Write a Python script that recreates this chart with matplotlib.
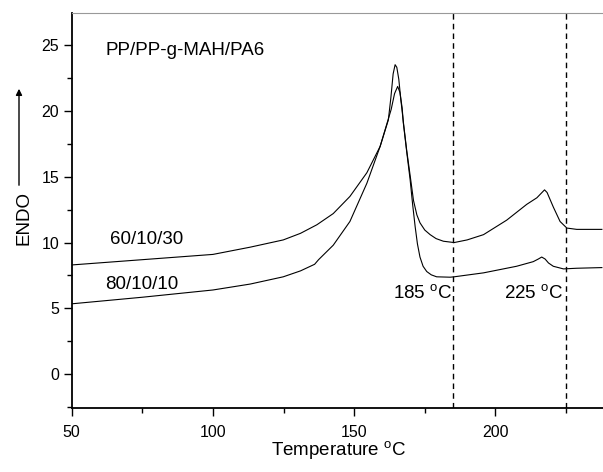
import matplotlib
matplotlib.use("Agg")
import matplotlib.pyplot as plt
from matplotlib.ticker import MultipleLocator

plt.rcParams['font.family'] = ['Liberation Sans', 'DejaVu Sans']
plt.rcParams['mathtext.fontset'] = 'custom'
plt.rcParams['mathtext.rm'] = 'Liberation Sans'

# 60/10/30 curve (upper)
t_upper = [50, 75, 100, 113.2, 124.9, 131.0, 136.8, 142.6, 148.5, 154.5, 159.2, 162.1,
           163.0, 163.8, 164.5, 165.1, 165.8, 166.5, 167.5, 168.6, 170.0, 171.0, 172.2,
           173.3, 175.0, 176.9, 179.0, 181.6,
           185.4, 190.0, 195.8, 204.0, 211.1, 214.7, 216.5, 217.4, 218.3, 219.3, 220.5, 222.9,
           225.3, 228.8, 233.0, 237.7]
y_upper = [8.3, 8.7, 9.1, 9.65, 10.2, 10.7, 11.35, 12.2, 13.5, 15.3, 17.3, 19.3,
           21.0, 22.8, 23.5, 23.3, 22.4, 20.9, 19.0, 17.0, 14.8, 13.2, 12.1,
           11.5, 10.95, 10.6, 10.3, 10.1,
           10.0, 10.2, 10.6, 11.7, 12.9, 13.4, 13.8, 14.0, 13.8, 13.3, 12.7, 11.6,
           11.1, 11.0, 11.0, 11.0]

# 80/10/10 curve (lower)
t_lower = [50, 75, 100, 113.2, 124.9, 131.0, 136.0, 136.8, 137.4, 142.6, 148.5, 154.5,
           159.2, 163.1, 164.3, 165.4, 166.2, 167.0, 167.4, 168.6, 169.8, 170.7, 171.6,
           172.4, 173.3, 174.4, 175.7, 177.3,
           179.2, 184.0, 185.4, 195.8, 207.5, 213.4, 215.2, 216.4, 217.6, 218.8, 220.5, 224.1,
           228.8, 237.7]
y_lower = [5.35, 5.85, 6.4, 6.85, 7.4, 7.85, 8.35, 8.55, 8.7, 9.8, 11.6, 14.5,
           17.3, 20.1, 21.3, 21.85, 21.4, 20.2, 19.1, 16.9, 14.8, 12.9, 11.2,
           9.9, 8.9, 8.2, 7.8, 7.55,
           7.4, 7.37, 7.4, 7.7, 8.2, 8.55, 8.75, 8.9, 8.75, 8.45, 8.2, 8.0,
           8.05, 8.1]

vline_temps = [185, 225]
x_ticks = [50, 100, 150, 200]
y_ticks = [0, 5, 10, 15, 20, 25]

fig = plt.figure(figsize=(6.03, 4.72), dpi=100)
ax = fig.add_axes([71.7/603, (472-408.3)/472, (603-71.7)/603, (408.3-13.3)/472])

ax.plot(t_upper, y_upper, color='black', lw=0.8)
ax.plot(t_lower, y_lower, color='black', lw=0.8)
for v in vline_temps:
    ax.axvline(v, color='black', lw=1.0, ls=(0, (4, 3)))

ax.set_xlim(50, 238.1)
ax.set_ylim(-2.58, 27.4)
ax.set_xticks(x_ticks)
ax.set_yticks(y_ticks)
ax.xaxis.set_minor_locator(MultipleLocator(25))
ax.yaxis.set_minor_locator(MultipleLocator(2.5))
ax.tick_params(which='major', direction='out', length=6, width=1.0, labelsize=11.5)
ax.tick_params(which='minor', direction='out', length=3.5, width=1.0)
ax.tick_params(axis='x', pad=6)
ax.tick_params(axis='y', pad=3)

ax.spines['right'].set_visible(False)
ax.spines['top'].set_color('#999999')
ax.spines['top'].set_linewidth(0.8)
ax.spines['left'].set_linewidth(1.3)
ax.spines['bottom'].set_linewidth(1.3)

ax.text(61.8, 24.6, 'PP/PP-g-MAH/PA6', fontsize=13.5, va='center', ha='left')
ax.text(63.6, 10.25, '60/10/30', fontsize=13.5, va='center', ha='left')
ax.text(61.8, 6.8, '80/10/10', fontsize=13.5, va='center', ha='left')
ax.text(184.6, 6.1, r'185 $^{\rm o}$C', fontsize=13.5, va='center', ha='right')
ax.text(224.0, 6.1, r'225 $^{\rm o}$C', fontsize=13.5, va='center', ha='right')

fig.text(339/603, 1 - 451/472, r'Temperature $^{\rm o}$C', fontsize=13.5,
         ha='center', va='center')
fig.text(24/603, 1 - 218/472, 'ENDO', fontsize=13.5, rotation=90,
         ha='center', va='center')
fig.add_artist(matplotlib.patches.FancyArrowPatch(
    (19/603, 1 - 188/472), (19/603, 1 - 86/472),
    transform=fig.transFigure, arrowstyle='-|>', mutation_scale=9,
    color='black', lw=1.0))

fig.savefig('out.png', dpi=100)
